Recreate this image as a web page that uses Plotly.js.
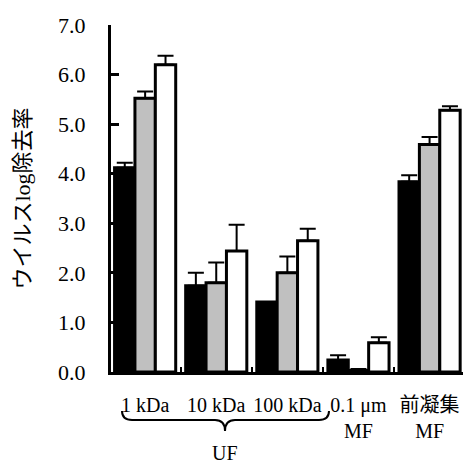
<!DOCTYPE html>
<html>
<head>
<meta charset="utf-8">
<script src="https://cdn.plot.ly/plotly-3.0.1.min.js"></script>
<style>html,body{margin:0;padding:0;background:#fff;}</style>
</head>
<body>
<div id="chart" style="width:465px;height:464px;"></div>
<script>
const categories = ['1 kDa', '10 kDa', '100 kDa', '0.1 μm<br>MF', '前凝集<br>MF'];
const blackValues = [4.12, 1.74, 1.41, 0.24, 3.84];
const blackErrors = [0.10, 0.26, 0.00, 0.10, 0.13];
const grayValues = [5.52, 1.80, 2.00, 0.03, 4.59];
const grayErrors = [0.14, 0.41, 0.33, 0.03, 0.15];
const whiteValues = [6.20, 2.44, 2.65, 0.59, 5.28];
const whiteErrors = [0.18, 0.53, 0.24, 0.11, 0.08];
const yTickValues = [0, 1, 2, 3, 4, 5, 6, 7];

const FONT = "'Liberation Serif', 'Times New Roman', 'Noto Sans CJK JP', serif";

function series(values, errors, fill) {
  return {
    type: 'bar',
    x: categories,
    y: values,
    marker: {color: fill, line: {color: '#000', width: 3}},
    error_y: {type: 'data', symmetric: false, array: errors,
              arrayminus: values.map(() => 0), color: '#000', thickness: 2, width: 8},
    hoverinfo: 'none'
  };
}

const data = [
  series(blackValues, blackErrors, '#000000'),
  series(grayValues, grayErrors, '#c0c0c0'),
  series(whiteValues, whiteErrors, '#ffffff')
];

const layout = {
  width: 465, height: 464,
  margin: {l: 111, r: 2, t: 25, b: 92},
  paper_bgcolor: '#fff', plot_bgcolor: '#fff',
  showlegend: false,
  barmode: 'group',
  bargap: 0.14,
  bargroupgap: 0,
  font: {family: FONT, color: '#000', size: 20},
  xaxis: {
    type: 'category',
    range: [-0.48, 4.47],
    showline: true, linecolor: '#000', linewidth: 3,
    ticks: 'inside', tickson: 'boundaries', ticklen: 5, tickwidth: 2, tickcolor: '#000',
    tickangle: 0, automargin: false,
    ticklabelstandoff: 13,
    tickfont: {family: FONT, size: 20, color: '#000'},
    showgrid: false, zeroline: false, fixedrange: true
  },
  yaxis: {
    range: [0, 7],
    tickvals: yTickValues,
    tickformat: '.1f',
    automargin: false,
    showline: true, linecolor: '#000', linewidth: 3,
    ticks: 'inside', ticklen: 8, tickwidth: 3, tickcolor: '#000',
    ticklabelstandoff: 18,
    tickfont: {family: FONT, size: 22, color: '#000'},
    showgrid: false, zeroline: false, fixedrange: true,
    title: {text: 'ウイルスlog除去率', font: {family: FONT, size: 22, color: '#000'}, standoff: 22}
  },
  shapes: [{
    type: 'path', xref: 'paper', yref: 'paper',
    path: 'M 0.03125,-0.1124 Q 0.03125,-0.1383 0.0597,-0.1383 L 0.2955,-0.1383 Q 0.3239,-0.1383 0.3239,-0.170 Q 0.3239,-0.1383 0.3523,-0.1383 L 0.5909,-0.1383 Q 0.6193,-0.1383 0.6193,-0.1124',
    line: {color: '#000', width: 2}
  }],
  annotations: [{
    xref: 'paper', yref: 'paper', x: 0.3239, y: -0.233,
    text: 'UF', showarrow: false, xanchor: 'center', yanchor: 'middle',
    font: {family: FONT, size: 20, color: '#000'}
  }]
};

Plotly.newPlot('chart', data, layout, {displayModeBar: false, staticPlot: true});
</script>
</body>
</html>
